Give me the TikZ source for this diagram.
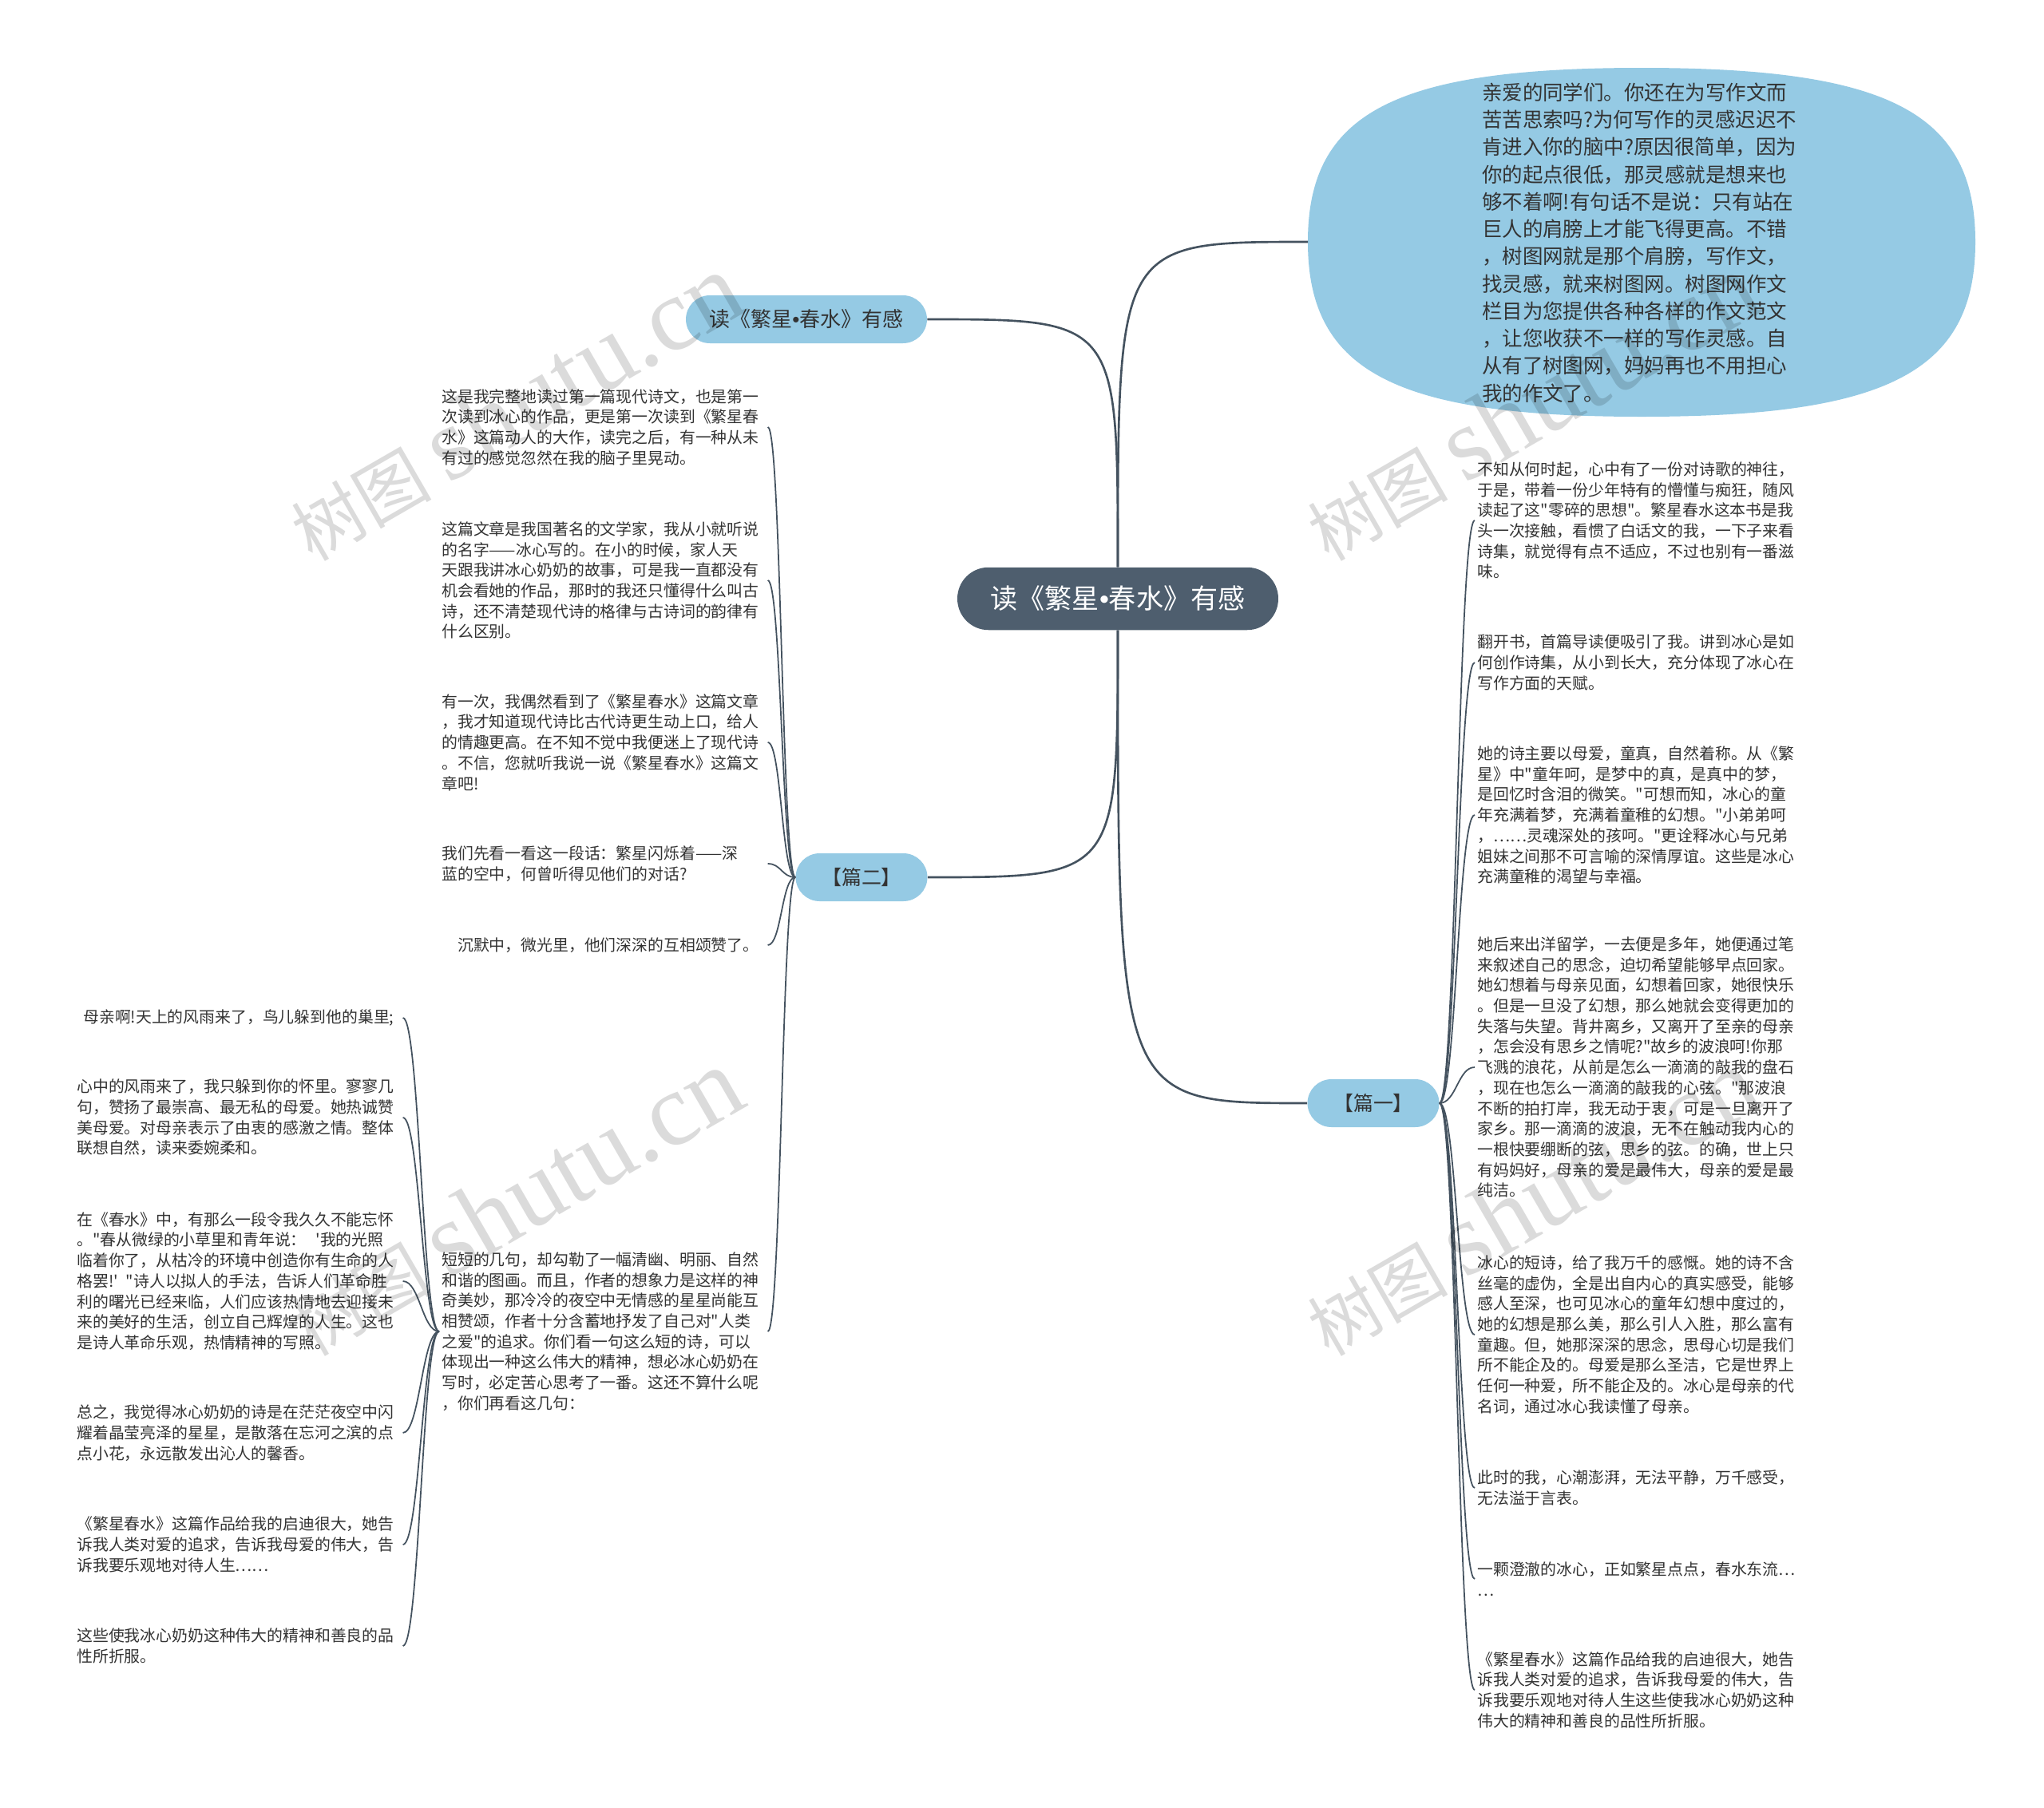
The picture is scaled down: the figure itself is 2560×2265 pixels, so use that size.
\documentclass[tikz,border=0pt]{standalone}
\usepackage{fontspec}
\setmainfont{Noto Sans CJK SC}[Ligatures=TeXOff]
\newfontfamily\wmfont{Liberation Serif}
\newfontfamily\dotfont{Liberation Sans}
\usepackage{tikz}
\usetikzlibrary{positioning}
\definecolor{slate}{HTML}{4E5E6E}
\definecolor{wire}{HTML}{44525F}
\definecolor{sky}{HTML}{95CAE4}
\definecolor{ink}{HTML}{333333}
\newcommand{\sdot}{{\dotfont •}}

\begin{document}
\begin{tikzpicture}[x=0.02cm, y=-0.02cm,
    rootnode/.style={fill=slate, text=white, rounded corners=0.78cm, minimum width=8.04cm, minimum height=1.57cm, inner sep=0pt, font=\fontsize{19.4pt}{22pt}\selectfont},
    topicnode/.style={fill=sky, text=ink, rounded corners=0.6cm, minimum height=1.2cm, inner sep=0pt, font=\fontsize{14.2pt}{17pt}\selectfont},
    leafnote/.style={text=ink, align=left, text width=8.1cm, inner xsep=0.06cm, inner ysep=0.08cm, font=\fontsize{11.3pt}{14.63pt}\selectfont},
    mainwire/.style={draw=wire, line width=1.5pt},
    leafwire/.style={draw=wire, line width=1pt},
    stamp/.style={text=black, opacity=0.14, rotate=30, inner sep=0pt}]
    \fill[white] (0,0) rectangle (2560,2265);
    \useasboundingbox (0,0) rectangle (2560,2265);

    % Úvodní bublina
    \fill[sky] (1638,303) .. controls (1638,141) and (1747,85) .. (2056,85)
        .. controls (2365,85) and (2474,141) .. (2474,303)
        .. controls (2474,465) and (2365,522) .. (2056,522)
        .. controls (1747,522) and (1638,465) .. (1638,303) -- cycle;
    \coordinate (introedge) at (1638,303);
    \node[text=ink, align=left, text width=8.0cm, inner sep=0pt, font=\fontsize{14.5pt}{19.5pt}\selectfont] (intro) at (2056,304) {亲爱的同学们。你还在为写作文而\\
        苦苦思索吗?为何写作的灵感迟迟不\\
        肯进入你的脑中?原因很简单，因为\\
        你的起点很低，那灵感就是想来也\\
        够不着啊!有句话不是说：只有站在\\
        巨人的肩膀上才能飞得更高。不错\\
        ，树图网就是那个肩膀，写作文，\\
        找灵感，就来树图网。树图网作文\\
        栏目为您提供各种各样的作文范文\\
        ，让您收获不一样的写作灵感。自\\
        从有了树图网，妈妈再也不用担心\\
        我的作文了。};

    % Střed a větve
    \node[rootnode] (main) at (1400,750) {读《繁星\sdot 春水》有感};
    \node[topicnode, minimum width=6.04cm, font=\fontsize{14.8pt}{17pt}\selectfont] (title) at (1010,400) {读《繁星\sdot 春水》有感};
    \node[topicnode, minimum width=3.3cm] (partB) at (1079,1099) {【篇二】};
    \node[topicnode, minimum width=3.3cm] (partA) at (1720,1382) {【篇一】};

    \draw[mainwire] (main.north) .. controls (main.north |- introedge) and (main.north |- introedge) .. (introedge);
    \draw[mainwire] (main.north) .. controls (main.north |- title.east) and (main.north |- title.east) .. (title.east);
    \draw[mainwire] (main.south) .. controls (main.south |- partB.east) and (main.south |- partB.east) .. (partB.east);
    \draw[mainwire] (main.south) .. controls (main.south |- partA.west) and (main.south |- partA.west) .. (partA.west);

    %篇一
    \node[leafnote, anchor=west] (a1) at (1847,652) {不知从何时起，心中有了一份对诗歌的神往，\\
        于是，带着一份少年特有的懵懂与痴狂，随风\\
        读起了这"零碎的思想"。繁星春水这本书是我\\
        头一次接触，看惯了白话文的我，一下子来看\\
        诗集，就觉得有点不适应，不过也别有一番滋\\
        味。};
    \node[leafnote, anchor=west] (a2) at (1847,830) {翻开书，首篇导读便吸引了我。讲到冰心是如\\
        何创作诗集，从小到长大，充分体现了冰心在\\
        写作方面的天赋。};
    \node[leafnote, anchor=west] (a3) at (1847,1021) {她的诗主要以母爱，童真，自然着称。从《繁\\
        星》中"童年呵，是梦中的真，是真中的梦，\\
        是回忆时含泪的微笑。"可想而知，冰心的童\\
        年充满着梦，充满着童稚的幻想。"小弟弟呵\\
        ，……灵魂深处的孩呵。"更诠释冰心与兄弟\\
        姐妹之间那不可言喻的深情厚谊。这些是冰心\\
        充满童稚的渴望与幸福。};
    \node[leafnote, anchor=west] (a4) at (1847,1337) {她后来出洋留学，一去便是多年，她便通过笔\\
        来叙述自己的思念，迫切希望能够早点回家。\\
        她幻想着与母亲见面，幻想着回家，她很快乐\\
        。但是一旦没了幻想，那么她就会变得更加的\\
        失落与失望。背井离乡，又离开了至亲的母亲\\
        ，怎会没有思乡之情呢?"故乡的波浪呵!你那\\
        飞溅的浪花，从前是怎么一滴滴的敲我的盘石\\
        ，现在也怎么一滴滴的敲我的心弦。"那波浪\\
        不断的拍打岸，我无动于衷，可是一旦离开了\\
        家乡。那一滴滴的波浪，无不在触动我内心的\\
        一根快要绷断的弦，思乡的弦。的确，世上只\\
        有妈妈好，母亲的爱是最伟大，母亲的爱是最\\
        纯洁。};
    \node[leafnote, anchor=west] (a5) at (1847,1672) {冰心的短诗，给了我万千的感慨。她的诗不含\\
        丝毫的虚伪，全是出自内心的真实感受，能够\\
        感人至深，也可见冰心的童年幻想中度过的，\\
        她的幻想是那么美，那么引人入胜，那么富有\\
        童趣。但，她那深深的思念，思母心切是我们\\
        所不能企及的。母爱是那么圣洁，它是世界上\\
        任何一种爱，所不能企及的。冰心是母亲的代\\
        名词，通过冰心我读懂了母亲。};
    \node[leafnote, anchor=west] (a6) at (1847,1864) {此时的我，心潮澎湃，无法平静，万千感受，\\
        无法溢于言表。};
    \node[leafnote, anchor=west] (a7) at (1847,1978) {一颗澄澈的冰心，正如繁星点点，春水东流…\\
        …};
    \node[leafnote, anchor=west] (a8) at (1847,2117) {《繁星春水》这篇作品给我的启迪很大，她告\\
        诉我人类对爱的追求，告诉我母爱的伟大，告\\
        诉我要乐观地对待人生这些使我冰心奶奶这种\\
        伟大的精神和善良的品性所折服。};
    \foreach \k in {1,...,8}
        \draw[leafwire] (partA.east) .. controls +(21,0) and +(-21,0) .. (a\k.west);

    % 篇二
    \node[leafnote, anchor=west] (b1) at (550,535) {这是我完整地读过第一篇现代诗文，也是第一\\
        次读到冰心的作品，更是第一次读到《繁星春\\
        水》这篇动人的大作，读完之后，有一种从未\\
        有过的感觉忽然在我的脑子里晃动。};
    \node[leafnote, anchor=west] (b2) at (550,727) {这篇文章是我国著名的文学家，我从小就听说\\
        的名字——冰心写的。在小的时候，家人天\\
        天跟我讲冰心奶奶的故事，可是我一直都没有\\
        机会看她的作品，那时的我还只懂得什么叫古\\
        诗，还不清楚现代诗的格律与古诗词的韵律有\\
        什么区别。};
    \node[leafnote, anchor=west] (b3) at (550,930) {有一次，我偶然看到了《繁星春水》这篇文章\\
        ，我才知道现代诗比古代诗更生动上口，给人\\
        的情趣更高。在不知不觉中我便迷上了现代诗\\
        。不信，您就听我说一说《繁星春水》这篇文\\
        章吧!};
    \node[leafnote, anchor=west] (b4) at (550,1082) {我们先看一看这一段话：繁星闪烁着——深\\
        蓝的空中，何曾听得见他们的对话?};
    \node[leafnote, anchor=west] (b5) at (550,1184) {\hspace*{1em}沉默中，微光里，他们深深的互相颂赞了。};
    \node[leafnote, anchor=west] (b6) at (550,1668) {短短的几句，却勾勒了一幅清幽、明丽、自然\\
        和谐的图画。而且，作者的想象力是这样的神\\
        奇美妙，那冷冷的夜空中无情感的星星尚能互\\
        相赞颂，作者十分含蓄地抒发了自己对"人类\\
        之爱"的追求。你们看一句这么短的诗，可以\\
        体现出一种这么伟大的精神，想必冰心奶奶在\\
        写时，必定苦心思考了一番。这还不算什么呢\\
        ，你们再看这几句：};
    \foreach \k in {1,...,6}
        \draw[leafwire] (partB.west) .. controls +(-17,0) and +(17,0) .. (b\k.east);

    % Verše
    \node[leafnote, anchor=west] (c1) at (93,1275) {\hspace*{0.4em}母亲啊!天上的风雨来了，鸟儿躲到他的巢里;};
    \node[leafnote, anchor=west] (c2) at (93,1400) {心中的风雨来了，我只躲到你的怀里。寥寥几\\
        句，赞扬了最崇高、最无私的母爱。她热诚赞\\
        美母爱。对母亲表示了由衷的感激之情。整体\\
        联想自然，读来委婉柔和。};
    \node[leafnote, anchor=west] (c3) at (93,1605) {在《春水》中，有那么一段令我久久不能忘怀\\
        。"春从微绿的小草里和青年说：\kern0.6em'我的光照\\
        临着你了，从枯冷的环境中创造你有生命的人\\
        格罢!'\kern0.5em"诗人以拟人的手法，告诉人们革命胜\\
        利的曙光已经来临，人们应该热情地去迎接未\\
        来的美好的生活，创立自己辉煌的人生。这也\\
        是诗人革命乐观，热情精神的写照。};
    \node[leafnote, anchor=west] (c4) at (93,1795) {总之，我觉得冰心奶奶的诗是在茫茫夜空中闪\\
        耀着晶莹亮泽的星星，是散落在忘河之滨的点\\
        点小花，永远散发出沁人的馨香。};
    \node[leafnote, anchor=west] (c5) at (93,1935) {《繁星春水》这篇作品给我的启迪很大，她告\\
        诉我人类对爱的追求，告诉我母爱的伟大，告\\
        诉我要乐观地对待人生……};
    \node[leafnote, anchor=west] (c6) at (93,2062) {这些使我冰心奶奶这种伟大的精神和善良的品\\
        性所折服。};
    \foreach \k in {1,...,6}
        \draw[leafwire] (b6.west) .. controls +(-21,0) and +(21,0) .. (c\k.east);

    % Vodoznaky
    \node[stamp] (mark1) at (645,510) {{\fontsize{50pt}{50pt}\selectfont 树图}\hspace{0.4cm}{\wmfont\fontsize{74pt}{74pt}\selectfont shutu.cn}};
    \node[stamp] (mark2) at (645,1506) {{\fontsize{50pt}{50pt}\selectfont 树图}\hspace{0.4cm}{\wmfont\fontsize{74pt}{74pt}\selectfont shutu.cn}};
    \node[stamp] (mark3) at (1918,510) {{\fontsize{50pt}{50pt}\selectfont 树图}\hspace{0.4cm}{\wmfont\fontsize{74pt}{74pt}\selectfont shutu.cn}};
    \node[stamp] (mark4) at (1918,1506) {{\fontsize{50pt}{50pt}\selectfont 树图}\hspace{0.4cm}{\wmfont\fontsize{74pt}{74pt}\selectfont shutu.cn}};
\end{tikzpicture}
\end{document}
